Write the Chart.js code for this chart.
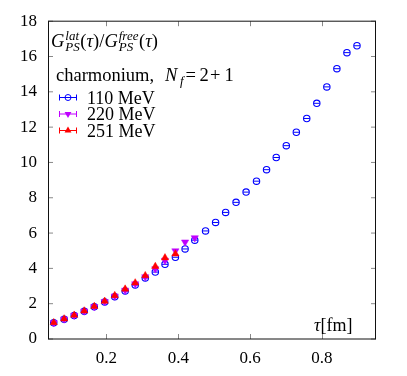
<!DOCTYPE html>
<html><head><meta charset="utf-8">
<script src="https://cdn.jsdelivr.net/npm/chart.js@4/dist/chart.umd.min.js"></script>
<style>html,body{margin:0;padding:0;background:#fff;}#wrap{width:407px;height:376px;position:relative;}</style>
</head><body><div id="wrap"><canvas id="c" width="407" height="376"></canvas></div>
<script>
// ---- data ----
const tau110 = [0.053,0.082,0.110,0.138,0.166,0.195,0.223,0.252,0.280,0.308,0.336,0.363,0.392,0.419,0.446,0.476,0.504,0.532,0.561,0.589,0.618,0.646,0.673,0.701,0.729,0.758,0.786,0.814,0.842,0.870,0.898];
const ratio110 = [0.92,1.12,1.33,1.57,1.82,2.10,2.40,2.72,3.06,3.46,3.79,4.23,4.63,5.10,5.60,6.12,6.60,7.17,7.74,8.32,8.94,9.59,10.28,10.95,11.71,12.49,13.35,14.28,15.31,16.22,16.61];
const tau220 = [0.053,0.082,0.110,0.138,0.166,0.195,0.223,0.252,0.280,0.308,0.336,0.363,0.392,0.419,0.446];
const ratio220 = [0.92,1.13,1.34,1.58,1.83,2.12,2.43,2.76,3.12,3.52,3.97,4.45,4.99,5.49,5.73];
const tau251 = [0.053,0.082,0.110,0.138,0.166,0.195,0.223,0.252,0.280,0.308,0.336,0.363,0.392];
const ratio251 = [0.93,1.14,1.35,1.59,1.85,2.14,2.46,2.83,3.18,3.59,4.11,4.60,4.82];
const seriesLabels = ['110 MeV','220 MeV','251 MeV'];
const xTicks = [0.2,0.4,0.6,0.8];
const xTickLabels = ['0.2','0.4','0.6','0.8'];
const yTicks = [0,2,4,6,8,10,12,14,16,18];
const yTickLabels = ['0','2','4','6','8','10','12','14','16','18'];

const BLUE = 'rgb(0,0,255)', MAG = 'rgb(191,0,255)', RED = 'rgb(255,0,0)';
const FONT = '"Liberation Serif","Times New Roman",serif';
const pts = (xs, ys) => xs.map((x, i) => ({x, y: ys[i]}));

function drawRich(ctx, x, y, parts, size) {
  let cx = x;
  const ss = Math.round(size * 0.7);
  for (const p of parts) {
    if (p.gap) { cx += p.gap; continue; }
    if (p.sup !== undefined) {
      ctx.font = `italic ${ss}px ${FONT}`;
      ctx.fillText(p.sup, cx + 1, y - 7);
      ctx.fillText(p.sub, cx + 1, y + 4);
      cx += 1.5 + Math.max(ctx.measureText(p.sup).width, ctx.measureText(p.sub).width);
    } else if (p.sub !== undefined) {
      ctx.font = `italic ${ss}px ${FONT}`;
      ctx.fillText(p.sub, cx, y + 4);
      cx += ctx.measureText(p.sub).width;
    } else {
      ctx.font = `${p.it ? 'italic ' : ''}${size}px ${FONT}`;
      ctx.fillText(p.t, cx, y);
      cx += ctx.measureText(p.t).width;
    }
  }
  return cx;
}

function marker(ctx, style, color, x, y) {
  ctx.save();
  ctx.strokeStyle = color; ctx.fillStyle = color; ctx.lineWidth = 1;
  ctx.beginPath();
  if (style === 'circle') {
    ctx.arc(x, y, 3, 0, Math.PI * 2); ctx.stroke();
  } else {
    const r = 4, s = style === 'up' ? -1 : 1;
    ctx.moveTo(x, y + s * r);
    ctx.lineTo(x - r * 0.866, y - s * r * 0.5);
    ctx.lineTo(x + r * 0.866, y - s * r * 0.5);
    ctx.closePath(); ctx.fill();
  }
  ctx.restore();
}

const decor = {
  id: 'decor',
  afterDraw(chart) {
    const {ctx, chartArea: a, scales: {x, y}} = chart;
    ctx.save();
    // ticks (inward, all four sides)
    ctx.strokeStyle = '#888'; ctx.lineWidth = 1;
    ctx.beginPath();
    xTicks.forEach(v => {
      const px = Math.round(x.getPixelForValue(v)) + 0.5;
      ctx.moveTo(px, a.bottom); ctx.lineTo(px, a.bottom - 5);
      ctx.moveTo(px, a.top); ctx.lineTo(px, a.top + 5);
    });
    yTicks.forEach(v => {
      const py = y.getPixelForValue(v);
      ctx.moveTo(a.left, py); ctx.lineTo(a.left + 5, py);
      ctx.moveTo(a.right, py); ctx.lineTo(a.right - 5, py);
    });
    ctx.stroke();
    // frame
    ctx.strokeStyle = '#111';
    ctx.beginPath();
    ctx.moveTo(a.left + 0.5, a.top); ctx.lineTo(a.left + 0.5, a.bottom);
    ctx.moveTo(a.right - 0.5, a.top); ctx.lineTo(a.right - 0.5, a.bottom);
    ctx.moveTo(a.left, a.top); ctx.lineTo(a.right, a.top);
    ctx.moveTo(a.left, a.bottom); ctx.lineTo(a.right, a.bottom);
    ctx.stroke();

    ctx.fillStyle = '#000'; ctx.textBaseline = 'alphabetic';
    // title
    drawRich(ctx, 51, 47, [
      {t: 'G', it: true}, {sup: 'lat', sub: 'PS'}, {t: '('}, {t: 'τ', it: true}, {t: ')/'},
      {t: 'G', it: true}, {sup: 'free', sub: 'PS'}, {t: '('}, {t: 'τ', it: true}, {t: ')'}
    ], 18.5);
    // legend heading
    ctx.font = `18.5px ${FONT}`;
    ctx.fillText('charmonium,', 56, 81);
    ctx.font = `italic 18.5px ${FONT}`;
    ctx.fillText('N', 165, 81);
    ctx.font = `italic 13px ${FONT}`;
    ctx.fillText('f', 180, 85);
    ctx.font = `18.5px ${FONT}`;
    ctx.fillText('=', 185.5, 81);
    ctx.fillText('2', 199.5, 81);
    ctx.fillText('+', 210, 81);
    ctx.fillText('1', 224.5, 81);
    // legend entries
    const rows = [[97.5, 'circle', BLUE], [114, 'down', MAG], [130.5, 'up', RED]];
    rows.forEach((r, i) => {
      const [ry, st, col] = r;
      ctx.save();
      ctx.strokeStyle = col; ctx.lineWidth = 1;
      ctx.beginPath();
      ctx.moveTo(59, ry); ctx.lineTo(77, ry);
      ctx.moveTo(59.5, ry - 3); ctx.lineTo(59.5, ry + 3);
      ctx.moveTo(76.5, ry - 3); ctx.lineTo(76.5, ry + 3);
      ctx.stroke();
      ctx.restore();
      marker(ctx, st, col, 68, ry);
      ctx.fillStyle = '#000';
      ctx.font = `18px ${FONT}`;
      ctx.fillText(seriesLabels[i], 87, ry + 6);
    });
    // axis label
    drawRich(ctx, 314, 331, [{t: 'τ', it: true}, {t: '[fm]'}], 18);
    ctx.restore();
  }
};

new Chart(document.getElementById('c'), {
  type: 'scatter',
  data: {
    datasets: [
      {label: seriesLabels[2], data: pts(tau251, ratio251), order: 0,
       pointStyle: 'triangle', pointRadius: 4.2, backgroundColor: RED, borderColor: RED, borderWidth: 0.5},
      {label: seriesLabels[1], data: pts(tau220, ratio220), order: 1,
       pointStyle: 'triangle', rotation: 180, pointRadius: 4.2, backgroundColor: MAG, borderColor: MAG, borderWidth: 0.5},
      {label: seriesLabels[0] + ' bar', data: pts(tau110, ratio110), order: 2,
       pointStyle: 'line', pointRadius: 3, borderColor: BLUE, borderWidth: 1},
      {label: seriesLabels[0], data: pts(tau110, ratio110), order: 3,
       pointStyle: 'circle', pointRadius: 3.2, backgroundColor: 'rgba(255,255,255,0)', borderColor: BLUE, borderWidth: 1.1}
    ]
  },
  options: {
    responsive: false, animation: false, devicePixelRatio: 1,
    layout: {padding: {top: 17, right: 31, left: 0, bottom: 0}},
    plugins: {legend: {display: false}, tooltip: {enabled: false}},
    elements: {point: {hoverRadius: 3}},
    scales: {
      x: {
        type: 'linear', min: 0.037, max: 0.951,
        afterBuildTicks: s => { s.ticks = xTicks.map(v => ({value: v})); },
        afterFit: s => { s.height = 37; },
        grid: {display: false, drawTicks: false}, border: {display: false},
        ticks: {padding: 9, color: '#000', font: {family: FONT, size: 17},
                callback: (v) => xTickLabels[xTicks.indexOf(v)] ?? ''}
      },
      y: {
        type: 'linear', min: 0, max: 18,
        afterBuildTicks: s => { s.ticks = yTicks.map(v => ({value: v})); },
        afterFit: s => { s.width = 48; },
        grid: {display: false, drawTicks: false}, border: {display: false},
        ticks: {padding: 11, color: '#000', font: {family: FONT, size: 17},
                callback: (v) => yTickLabels[yTicks.indexOf(v)] ?? ''}
      }
    }
  },
  plugins: [decor]
});
</script></body></html>
